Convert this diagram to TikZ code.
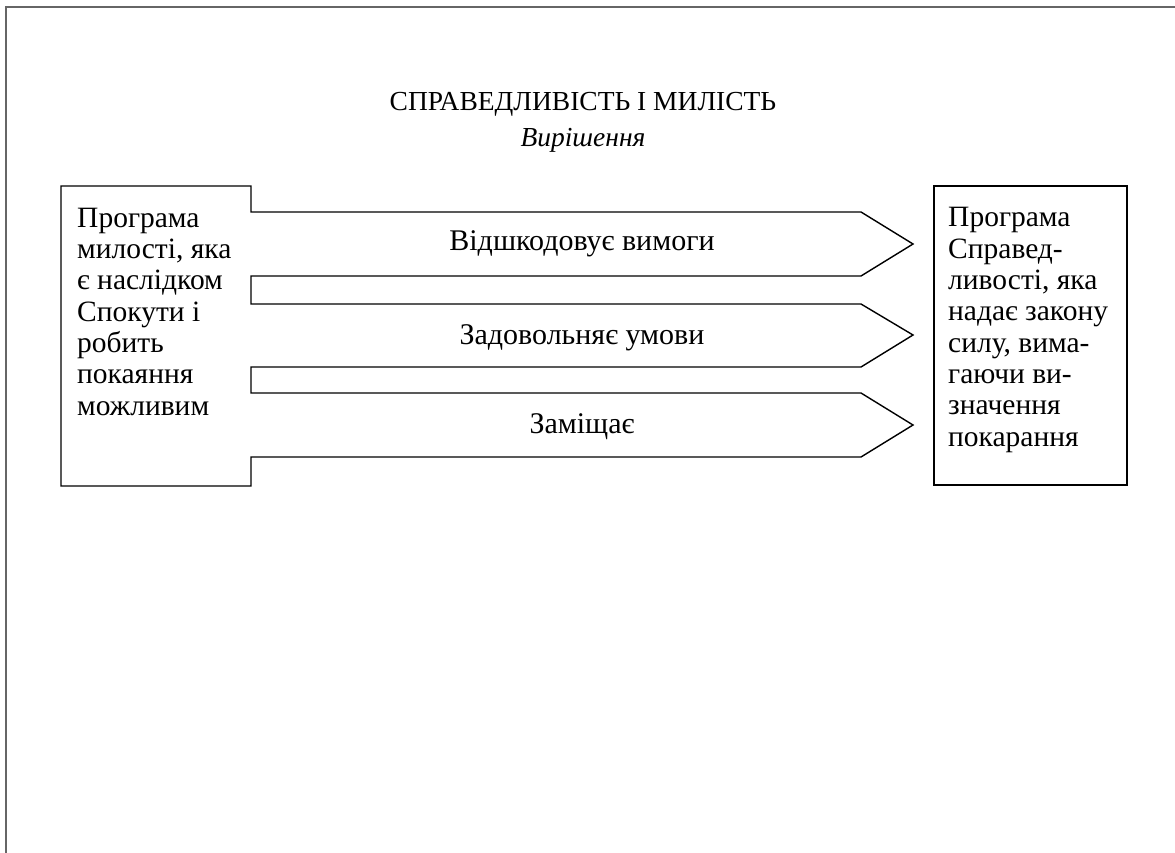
\documentclass[tikz,border=0pt]{standalone}
\usepackage{fontspec}
\setmainfont{Liberation Serif}
\begin{document}
\begin{tikzpicture}[x=1pt,y=-1pt,
  outline/.style={draw=black,line width=1.4pt,line join=miter},
  frameline/.style={draw=black!60,line width=1.8pt},
  bodytext/.style={anchor=base west,inner sep=0pt,font=\fontsize{29.5}{31.3}\selectfont,align=left},
  lbl/.style={anchor=base,inner sep=0pt,font=\fontsize{30}{31}\selectfont}]
\useasboundingbox (0,0) rectangle (1175,853);
\draw[frameline] (6,853) -- (6,7) -- (1175,7);
% title
\node[anchor=base,inner sep=0pt,font=\fontsize{27.5}{30}\selectfont] (title) at (583,111) {СПРАВЕДЛИВІСТЬ І МИЛІСТЬ};
\node[anchor=base,inner sep=0pt,font=\fontsize{27.5}{30}\selectfont\itshape] (sub) at (583,147) {Вирішення};
% left box merged with three arrows
\draw[outline] (251,212) -- (251,186) -- (61,186) -- (61,486) -- (251,486) -- (251,457)
  -- (861,457) -- (913,425) -- (861,393) -- (251,393) -- (251,367)
  -- (861,367) -- (913,335) -- (861,304) -- (251,304) -- (251,276)
  -- (861,276) -- (913,244) -- (861,212) -- cycle;
% right box
\draw[outline] (934,186) rectangle (1127,485);
% texts (base anchor = baseline of last line)
\node[bodytext] (mercy) at (77,415) {Програма\\милості, яка\\є наслідком\\Спокути і\\робить\\покаяння\\можливим};
\node[bodytext] (justice) at (948,446) {Програма\\Справед-\\ливості, яка\\надає закону\\силу, вима-\\гаючи ви-\\значення\\покарання};
\node[lbl] (a1) at (582,251) {Відшкодовує вимоги};
\node[lbl] (a2) at (582,344) {Задовольняє умови};
\node[lbl] (a3) at (582,433) {Заміщає};
\end{tikzpicture}
\end{document}
